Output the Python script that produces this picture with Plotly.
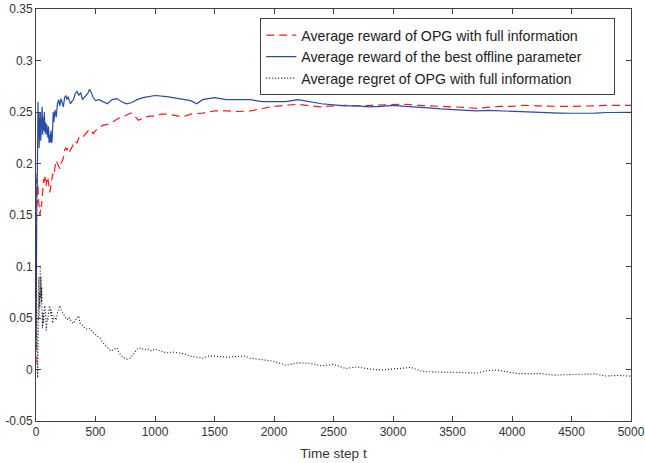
import plotly.graph_objects as go

# ---- data ----
best_t = [0,1,2,3,4,5,6,8,10,12,14,17,20,23,26,29,32,36,40,44,48,52,56,60,65,70,75,80,85,90,95,100,105,110,115,120,125,130,135,140,145,150,160,170,180,190,200,210,220,230,240,250,260,270,280,290,300,315,330,345,360,375,390,405,420,435,450,465,480,500,530,560,600,640,680,720,760,800,850,900,950,1000,1100,1200,1300,1350,1400,1500,1600,1700,1800,1900,2000,2100,2200,2300,2400,2500,2600,2700,2800,2900,3000,3100,3200,3300,3400,3500,3600,3700,3800,3900,4000,4100,4200,4300,4400,4500,4600,4700,4800,4900,5000]
best_v = [0.02,0.09,0.15,0.12,0.17,0.185,0.16,0.19,0.175,0.2,0.24,0.26,0.225,0.25,0.215,0.24,0.228,0.25,0.222,0.238,0.23,0.255,0.228,0.245,0.232,0.25,0.23,0.24,0.228,0.238,0.232,0.225,0.236,0.22,0.228,0.221,0.232,0.22,0.222,0.235,0.25,0.24,0.252,0.245,0.258,0.262,0.256,0.263,0.258,0.255,0.264,0.266,0.262,0.265,0.261,0.258,0.26,0.262,0.268,0.27,0.266,0.269,0.262,0.264,0.266,0.268,0.272,0.269,0.264,0.261,0.262,0.26,0.258,0.262,0.263,0.26,0.258,0.259,0.262,0.264,0.265,0.266,0.265,0.263,0.261,0.258,0.262,0.264,0.262,0.262,0.262,0.26,0.26,0.26,0.262,0.26,0.258,0.257,0.256,0.256,0.255,0.2555,0.2565,0.2555,0.255,0.254,0.253,0.2525,0.252,0.251,0.2515,0.251,0.2505,0.2505,0.2495,0.249,0.249,0.2488,0.2487,0.249,0.2495,0.2492,0.2496]

opg_t = [0,1,2,3,4,5,7,9,11,13,16,19,22,26,30,34,38,42,46,50,55,60,65,70,75,80,85,90,95,100,105,110,115,120,125,130,140,150,160,170,180,190,200,210,220,230,240,250,260,270,280,290,300,315,330,345,360,380,400,420,440,460,480,500,530,560,600,640,680,720,760,800,830,860,900,950,1000,1050,1100,1150,1200,1250,1300,1400,1500,1600,1700,1800,1900,2000,2100,2200,2300,2400,2500,2600,2700,2800,2900,3000,3100,3200,3300,3400,3500,3600,3700,3800,3900,4000,4100,4200,4300,4400,4500,4600,4700,4800,4900,5000]
opg_v = [0.005,0.06,0.13,0.16,0.175,0.185,0.17,0.16,0.175,0.165,0.18,0.17,0.16,0.158,0.152,0.15,0.156,0.16,0.158,0.165,0.168,0.175,0.185,0.18,0.187,0.183,0.178,0.184,0.182,0.186,0.18,0.176,0.172,0.174,0.18,0.182,0.19,0.188,0.197,0.203,0.2,0.198,0.195,0.2,0.203,0.205,0.213,0.215,0.213,0.215,0.211,0.213,0.216,0.219,0.222,0.22,0.225,0.224,0.227,0.23,0.232,0.233,0.229,0.232,0.235,0.237,0.238,0.24,0.243,0.245,0.247,0.249,0.246,0.242,0.244,0.246,0.246,0.248,0.248,0.247,0.246,0.246,0.248,0.249,0.251,0.251,0.2505,0.251,0.253,0.2555,0.2565,0.2575,0.256,0.255,0.256,0.2565,0.256,0.2565,0.2565,0.257,0.2575,0.2565,0.256,0.2555,0.2555,0.2545,0.2535,0.2545,0.2555,0.2555,0.2565,0.256,0.2555,0.2555,0.2555,0.2555,0.256,0.2565,0.2565,0.2565]

regret_t = [0,1,2,3,4,5,6,8,10,12,14,16,18,20,22,24,26,28,30,32,34,36,38,40,42,44,46,48,50,52,55,58,62,66,70,74,78,82,86,90,95,100,105,110,115,120,125,130,135,140,150,160,170,180,190,200,210,220,230,240,250,260,270,280,290,300,320,340,360,370,390,410,430,450,470,490,510,540,570,600,630,660,680,700,730,760,790,820,850,880,910,940,970,1000,1050,1100,1150,1200,1250,1300,1350,1400,1450,1500,1600,1700,1750,1800,1900,2000,2100,2200,2300,2400,2500,2600,2700,2800,2900,3000,3050,3150,3250,3400,3500,3600,3700,3800,3870,3950,4050,4150,4250,4350,4450,4550,4650,4700,4780,4900,5000]
regret_v = [0.14,0.12,0.09,0.06,0.04,0.02,0.03,0.01,0.0,-0.005,-0.008,0.01,0.04,0.08,0.06,0.09,0.07,0.05,0.075,0.06,0.08,0.1,0.085,0.07,0.09,0.075,0.065,0.08,0.06,0.05,0.04,0.055,0.045,0.05,0.06,0.062,0.058,0.045,0.038,0.042,0.05,0.048,0.055,0.06,0.062,0.058,0.052,0.058,0.05,0.045,0.052,0.05,0.048,0.055,0.06,0.062,0.058,0.056,0.055,0.052,0.05,0.05,0.048,0.05,0.047,0.046,0.045,0.05,0.052,0.045,0.043,0.04,0.039,0.04,0.037,0.035,0.033,0.03,0.025,0.021,0.018,0.02,0.021,0.016,0.012,0.01,0.011,0.015,0.02,0.021,0.019,0.02,0.018,0.02,0.018,0.016,0.017,0.016,0.015,0.013,0.012,0.011,0.013,0.013,0.012,0.0125,0.013,0.011,0.0095,0.008,0.004,0.0065,0.006,0.0035,0.005,0.001,0.0025,0.0005,-0.0005,0.0005,0.001,0.002,-0.002,-0.0025,-0.003,-0.003,-0.0035,-0.001,-0.0005,-0.002,-0.004,-0.004,-0.004,-0.0055,-0.0053,-0.005,-0.0048,-0.0042,-0.0063,-0.0058,-0.0065]

x_ticks = [0,500,1000,1500,2000,2500,3000,3500,4000,4500,5000]
y_ticks = [-0.05,0,0.05,0.1,0.15,0.2,0.25,0.3,0.35]
y_tick_text = ["-0.05","0","0.05","0.1","0.15","0.2","0.25","0.3","0.35"]

names = ["Average reward of OPG with full information",
         "Average reward of the best offline parameter",
         "Average regret of OPG with full information"]

pad = "\u00a0" * 7  # extra room at the right of the legend text, as in the reference

fig = go.Figure()
fig.add_trace(go.Scatter(x=opg_t, y=opg_v, mode="lines", name=names[0] + pad,
                         line=dict(color="#FF1A1A", width=1.2, dash="8px,5px")))
fig.add_trace(go.Scatter(x=best_t, y=best_v, mode="lines", name=names[1] + pad,
                         line=dict(color="#2A4BA6", width=1.2)))
fig.add_trace(go.Scatter(x=regret_t, y=regret_v, mode="lines", name=names[2] + pad,
                         line=dict(color="#111111", width=1.1, dash="1px,2px")))

axcol = "#404040"
fig.update_layout(
    width=645, height=463,
    margin=dict(l=36, r=14, t=9, b=42),
    paper_bgcolor="white", plot_bgcolor="white",
    font=dict(family="Liberation Sans, Arial, sans-serif", size=12, color="#333333"),
    showlegend=True,
    legend=dict(x=0.9735, y=0.977, xanchor="right", yanchor="top",
                bgcolor="white", bordercolor=axcol, borderwidth=1,
                font=dict(size=14.2, color="#222222"), tracegroupgap=0),
    xaxis=dict(range=[0, 5000], tickvals=x_ticks, ticks="inside", ticklen=5,
               showline=True, linecolor=axcol, linewidth=1, mirror="ticks",
               showgrid=False, zeroline=False, tickcolor=axcol, automargin=False,
               title=dict(text="Time step t", standoff=10, font=dict(size=13.5))),
    yaxis=dict(range=[-0.05, 0.35], tickvals=y_ticks, ticktext=y_tick_text,
               ticks="inside", ticklen=5, showline=True, linecolor=axcol,
               linewidth=1, mirror="ticks", showgrid=False, zeroline=False,
               tickcolor=axcol, automargin=False),
)

fig.write_html("out.html", config={"displayModeBar": False},
               post_script="document.body.style.margin='0';document.body.style.padding='0';")
